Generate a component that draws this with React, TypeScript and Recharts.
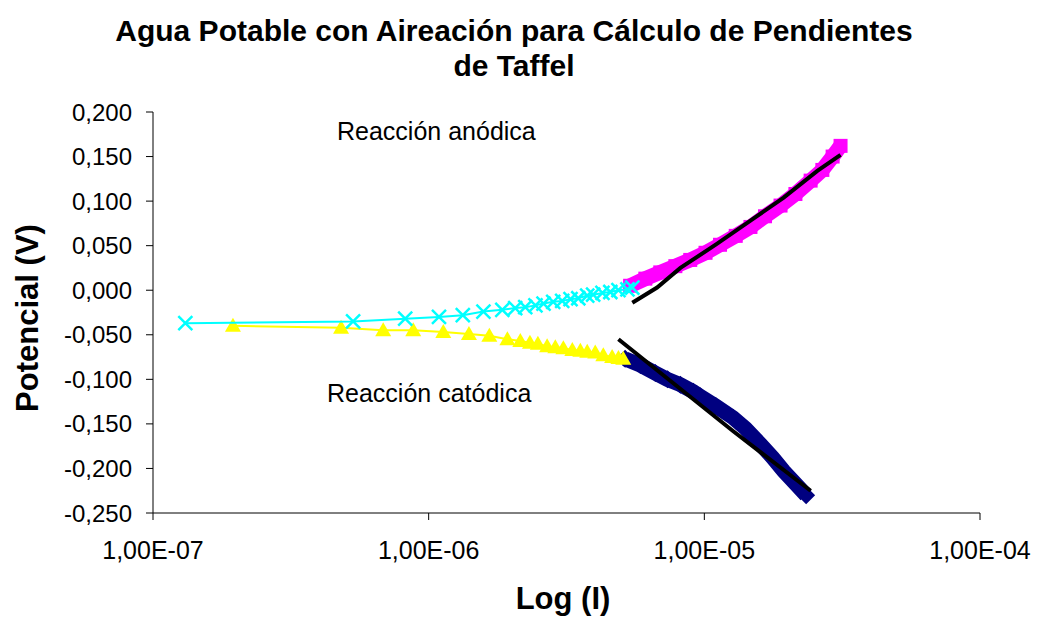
import { ScatterChart, Scatter, XAxis, YAxis } from "recharts";

const FONT = "'Liberation Sans', Arial, sans-serif";

// anodic branch, low current (cyan, x markers)
const cyanI = [1.31e-7, 5.32e-7, 8.22e-7, 1.09e-6, 1.33e-6, 1.58e-6, 1.85e-6, 2.06e-6, 2.24e-6, 2.44e-6, 2.61e-6, 2.83e-6, 3.05e-6, 3.27e-6, 3.49e-6, 3.76e-6, 3.95e-6, 4.27e-6, 4.56e-6, 4.88e-6, 5.26e-6, 5.48e-6];
const cyanV = [-0.037, -0.035, -0.032, -0.030, -0.028, -0.024, -0.022, -0.020, -0.019, -0.017, -0.015, -0.013, -0.012, -0.010, -0.009, -0.006, -0.005, -0.003, -0.002, 0.0, 0.001, 0.003];

// cathodic branch, low current (yellow triangles)
const yellowI = [1.95e-7, 4.81e-7, 6.84e-7, 8.79e-7, 1.13e-6, 1.40e-6, 1.66e-6, 1.93e-6, 2.15e-6, 2.33e-6, 2.49e-6, 2.69e-6, 2.88e-6, 3.08e-6, 3.32e-6, 3.55e-6, 3.76e-6, 4.02e-6, 4.30e-6, 4.63e-6, 4.88e-6, 5.08e-6];
const yellowV = [-0.040, -0.042, -0.045, -0.045, -0.047, -0.049, -0.051, -0.055, -0.057, -0.059, -0.060, -0.063, -0.064, -0.065, -0.067, -0.068, -0.069, -0.070, -0.073, -0.075, -0.076, -0.077];

// anodic Tafel region (magenta)
const magentaI = [5.38e-6, 6.11e-6, 6.92e-6, 7.85e-6, 8.89e-6, 1.01e-5, 1.14e-5, 1.30e-5, 1.47e-5, 1.66e-5, 1.89e-5, 2.14e-5, 2.43e-5, 2.68e-5, 2.92e-5, 3.12e-5];
const magentaV = [0.005, 0.013, 0.020, 0.027, 0.034, 0.042, 0.051, 0.061, 0.071, 0.083, 0.095, 0.108, 0.123, 0.135, 0.150, 0.162];

// cathodic Tafel region (navy)
const navyI = [5.16e-6, 5.86e-6, 6.64e-6, 7.35e-6, 8.19e-6, 9.12e-6, 9.66e-6, 1.10e-5, 1.27e-5, 1.41e-5, 1.60e-5, 1.77e-5, 1.94e-5, 2.14e-5, 2.34e-5];
const navyV = [-0.077, -0.084, -0.093, -0.100, -0.106, -0.114, -0.119, -0.130, -0.143, -0.155, -0.173, -0.188, -0.203, -0.217, -0.230];

// fitted Tafel lines (black)
const fitAnodicI = [5.48e-6, 6.74e-6, 8.19e-6, 1.11e-5, 1.47e-5, 1.94e-5, 2.57e-5, 3.12e-5];
const fitAnodicV = [-0.014, 0.003, 0.025, 0.052, 0.078, 0.104, 0.134, 0.152];
const fitCathodicI = [4.88e-6, 1.27e-5, 2.43e-5];
const fitCathodicV = [-0.055, -0.158, -0.225];

const xTicks = [1e-7, 1e-6, 1e-5, 1e-4];
const yTicks = [0.2, 0.15, 0.1, 0.05, 0, -0.05, -0.1, -0.15, -0.2, -0.25];

const pts = (xs: number[], ys: number[]) => xs.map((x, i) => ({ x, y: ys[i] }));

const fmtX = (v: number) => {
  const e = Math.round(Math.log10(v));
  return `1,00E-${String(-e).padStart(2, "0")}`;
};
const fmtY = (v: number) => v.toFixed(3).replace(".", ",");

const Cross = (p: any) => (
  <path
    d={`M${p.cx - 7},${p.cy - 7}L${p.cx + 7},${p.cy + 7}M${p.cx - 7},${p.cy + 7}L${p.cx + 7},${p.cy - 7}`}
    stroke="#00FFFF"
    strokeWidth={2.5}
  />
);
const Tri = (p: any) => (
  <path d={`M${p.cx},${p.cy - 8}L${p.cx + 8},${p.cy + 6}L${p.cx - 8},${p.cy + 6}Z`} fill="#FFFF00" />
);
const Sq = (p: any) => <rect x={p.cx - 7} y={p.cy - 7} width={14} height={14} fill="#FF00FF" />;
const Dia = (p: any) => (
  <path d={`M${p.cx},${p.cy - 9}L${p.cx + 9},${p.cy}L${p.cx},${p.cy + 9}L${p.cx - 9},${p.cy}Z`} fill="#000080" />
);
const None = () => <g />;

export default function App() {
  return (
    <div style={{ position: "absolute", left: 0, top: 0, width: 1037, height: 620, background: "#fff" }}>
      <ScatterChart width={1037} height={620} margin={{ top: 112, right: 57, bottom: 0, left: 0 }}>
        <XAxis
          type="number"
          dataKey="x"
          scale="log"
          domain={[1e-7, 1e-4]}
          ticks={xTicks}
          interval={0}
          allowDataOverflow
          tickFormatter={fmtX}
          height={107}
          tickSize={7}
          tickMargin={21}
          stroke="#000"
          tick={{ fill: "#000", fontSize: 25, fontFamily: FONT }}
        />
        <YAxis
          type="number"
          dataKey="y"
          domain={[-0.25, 0.2]}
          ticks={yTicks}
          interval={0}
          allowDataOverflow
          tickFormatter={fmtY}
          width={153}
          tickSize={7}
          tickMargin={14}
          stroke="#000"
          tick={{ fill: "#000", fontSize: 24, fontFamily: FONT }}
        />
        <Scatter data={pts(magentaI, magentaV)} line={{ stroke: "#FF00FF", strokeWidth: 15 }} shape={Sq} isAnimationActive={false} />
        <Scatter data={pts(navyI, navyV)} line={{ stroke: "#000080", strokeWidth: 15 }} shape={Dia} isAnimationActive={false} />
        <Scatter data={pts(yellowI, yellowV)} line={{ stroke: "#FFFF00", strokeWidth: 2 }} shape={Tri} isAnimationActive={false} />
        <Scatter data={pts(cyanI, cyanV)} line={{ stroke: "#00FFFF", strokeWidth: 2 }} shape={Cross} isAnimationActive={false} />
        <Scatter data={pts(fitAnodicI, fitAnodicV)} line={{ stroke: "#000", strokeWidth: 4 }} shape={None} isAnimationActive={false} />
        <Scatter data={pts(fitCathodicI, fitCathodicV)} line={{ stroke: "#000", strokeWidth: 4 }} shape={None} isAnimationActive={false} />
      </ScatterChart>
      <svg width={1037} height={620} style={{ position: "absolute", left: 0, top: 0, pointerEvents: "none" }} fontFamily={FONT}>
        <text x={514} y={41} textAnchor="middle" fontSize={30} fontWeight="bold">
          Agua Potable con Aireación para Cálculo de Pendientes
        </text>
        <text x={514} y={76} textAnchor="middle" fontSize={30} fontWeight="bold">
          de Taffel
        </text>
        <text x={38} y={318} transform="rotate(-90 38 318)" textAnchor="middle" fontSize={31} fontWeight="bold">
          Potencial (V)
        </text>
        <text x={563} y={609} textAnchor="middle" fontSize={31} fontWeight="bold">
          Log (I)
        </text>
        <text x={337} y={140} fontSize={25}>
          Reacción anódica
        </text>
        <text x={327} y={402} fontSize={25}>
          Reacción catódica
        </text>
      </svg>
    </div>
  );
}
